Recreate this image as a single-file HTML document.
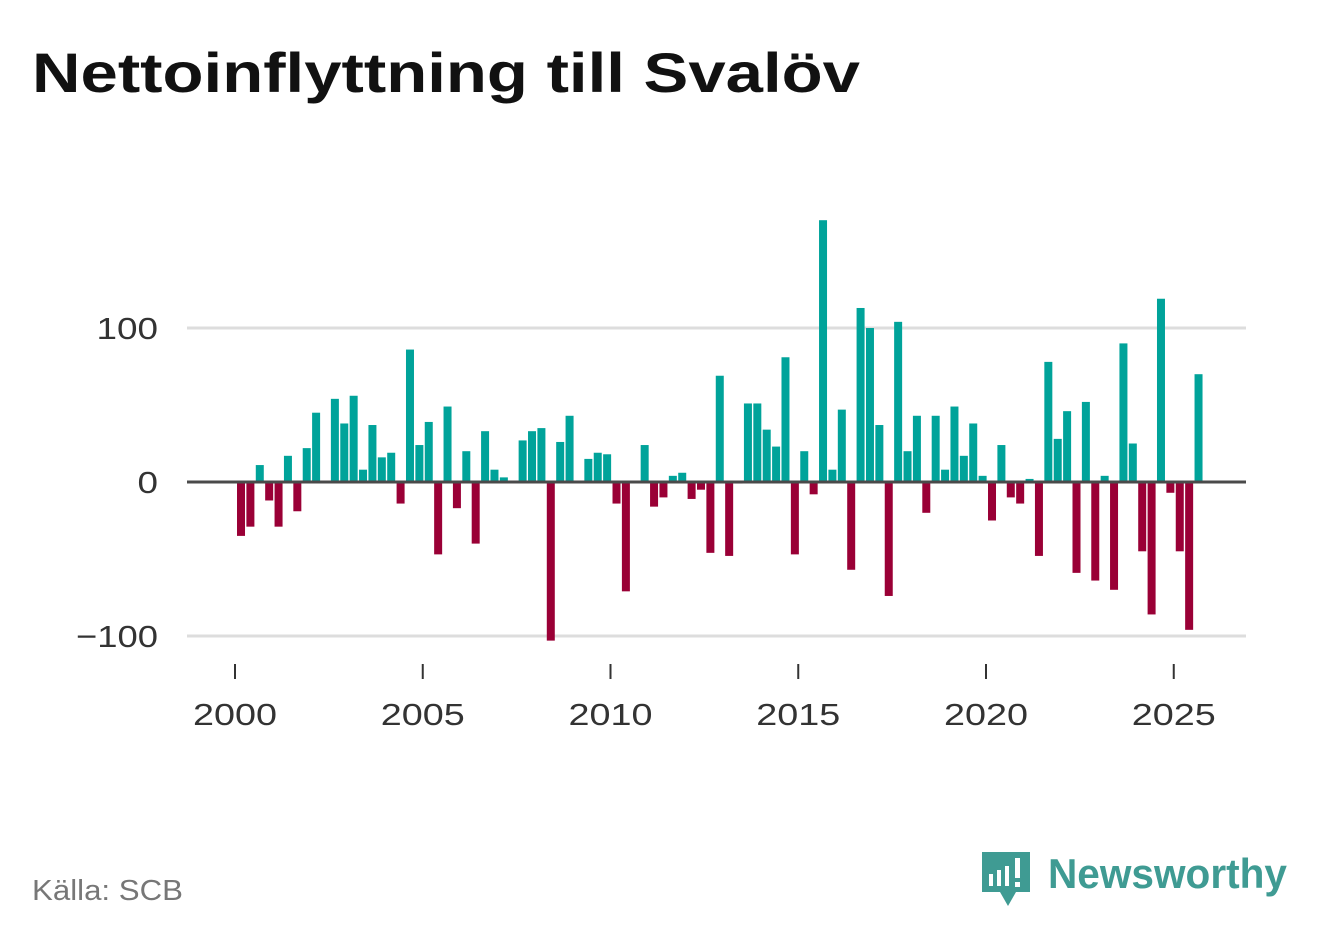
<!DOCTYPE html>
<html><head><meta charset="utf-8"><style>
body{margin:0;background:#fff;width:1322px;height:939px;overflow:hidden;font-family:"Liberation Sans","DejaVu Sans",sans-serif}
</style></head><body>
<svg width="1322" height="939" xmlns="http://www.w3.org/2000/svg" id="svg">
<text x="32" y="92" font-size="56" font-weight="bold" fill="#111" textLength="828" lengthAdjust="spacingAndGlyphs" font-family="Liberation Sans, sans-serif">Nettoinflyttning till Svalöv</text>
<text x="32" y="900" font-size="29" fill="#777" textLength="151" lengthAdjust="spacingAndGlyphs">Källa: SCB</text>
<g>
<path d="M982 852 h48 v40 h-14 l-8 14 l-8 -14 h-18 z" fill="#3f9b93"/>
<rect x="989" y="874" width="4" height="12" fill="#fff"/><rect x="997" y="870" width="4" height="16" fill="#fff"/><rect x="1005" y="866" width="4" height="20" fill="#fff"/><rect x="1015" y="858" width="5" height="20" fill="#fff"/><rect x="1015" y="882" width="5" height="5" fill="#fff"/>
<text x="1048" y="888" font-size="42" font-weight="bold" fill="#3f9b93" textLength="239" lengthAdjust="spacingAndGlyphs">Newsworthy</text>
</g>
<g id="plot"></g>
</svg>
<script>
const categories=[];for(let y=2000;y<=2025;y++)for(let q=1;q<=4;q++)categories.push(y+"Q"+q);
const values=[-35,-29,11,-12,-29,17,-19,22,45,0,54,38,56,8,37,16,19,-14,86,24,39,-47,49,-17,20,-40,33,8,3,0,27,33,35,-103,26,43,0,15,19,18,-14,-71,0,24,-16,-10,4,6,-11,-5,-46,69,-48,-1,51,51,34,23,81,-47,20,-8,170,8,47,-57,113,100,37,-74,104,20,43,-20,43,8,49,17,38,4,-25,24,-10,-14,2,-48,78,28,46,-59,52,-64,4,-70,90,25,-45,-86,119,-7,-45,-96,70];
const yTicks=[-100,0,100];
const yTickLabels=["\u2212100","0","100"];
const xTicks=[2000,2005,2010,2015,2020,2025];
const NS="http://www.w3.org/2000/svg",g=document.getElementById('plot');
const X=t=>235+(t-2000)*37.55, Y=v=>482-v*1.54;
function mk(t,a){const e=document.createElementNS(NS,t);for(const k in a)e.setAttribute(k,a[k]);g.appendChild(e);return e;}
yTicks.forEach((v,i)=>{
 if(v!==0){const l=mk('line',{x1:187,x2:1246,y1:Y(v),y2:Y(v),stroke:'#ddd','stroke-width':3});
 
 }
 const t=mk('text',{x:158,y:Y(v)+11,'text-anchor':'end','font-size':31,fill:'#333',textLength:String(yTickLabels[i].length*20.5),lengthAdjust:'spacingAndGlyphs'});t.textContent=yTickLabels[i];
 
 
});
values.forEach((v,i)=>{
 const cx=X(2000+i/4+0.16);
 const r=mk('rect',{x:cx-4,width:8,y:Math.min(Y(v),Y(0)),height:Math.abs(Y(v)-Y(0)),fill:v>=0?'#00a39a':'#9a0036'});
 
 
});
const z=mk('line',{x1:187,x2:1246,y1:Y(0),y2:Y(0),stroke:'#4a4a4a','stroke-width':3});


xTicks.forEach(yr=>{
 const tk=mk('line',{x1:X(yr),x2:X(yr),y1:664,y2:679,stroke:'#333','stroke-width':2});
 
 
 const t=mk('text',{x:X(yr),y:725,'text-anchor':'middle','font-size':31,fill:'#333',textLength:'84',lengthAdjust:'spacingAndGlyphs'});t.textContent=yr;
 
 
});
</script>
</body></html>
